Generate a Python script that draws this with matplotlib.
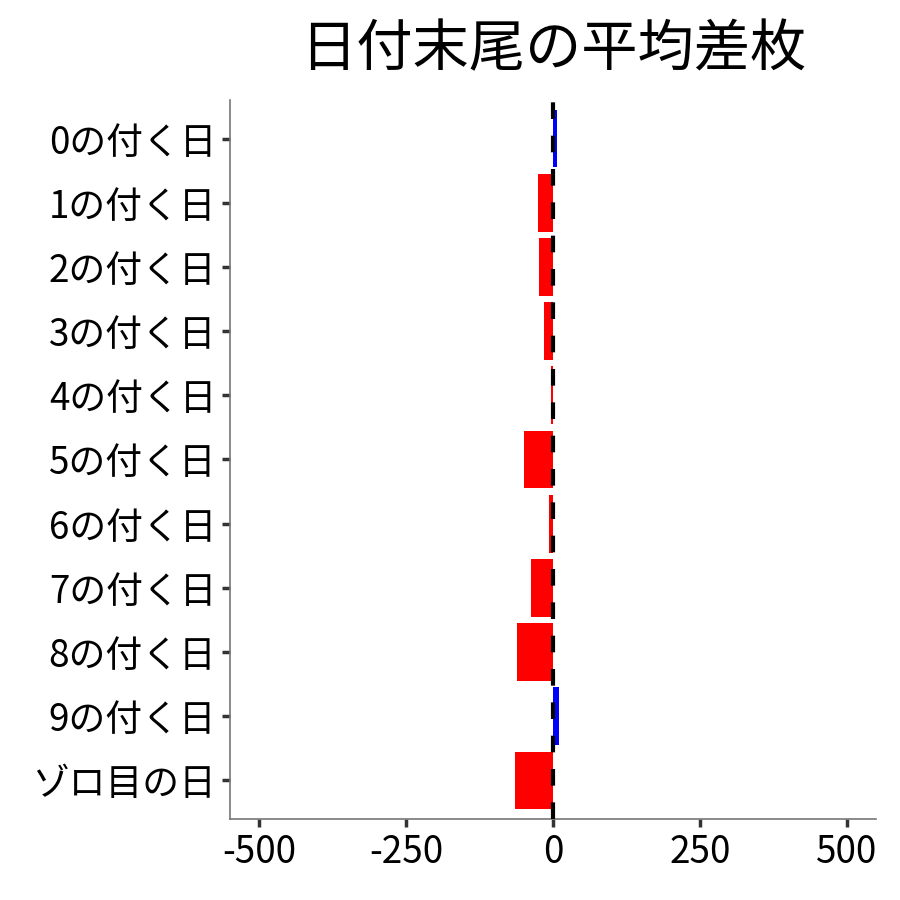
import matplotlib.pyplot as plt

plt.rcParams['font.family'] = ['Noto Sans CJK JP', 'DejaVu Sans']

categories = ['0の付く日', '1の付く日', '2の付く日', '3の付く日', '4の付く日',
              '5の付く日', '6の付く日', '7の付く日', '8の付く日', '9の付く日',
              'ゾロ目の日']
avg_diff = [7, -25, -23, -15, -4, -50, -6, -38, -61, 11, -64]
x_ticks = [-500, -250, 0, 250, 500]

colors = ['#0000FF' if v > 0 else '#FF0000' for v in avg_diff]

fig = plt.figure(figsize=(9, 9), dpi=100)
ax = fig.add_axes([0.2556, 0.09, 0.7177, 0.7989])

pos = list(range(len(categories)))
ax.barh(pos, avg_diff, height=0.9, color=colors, zorder=2)
ax.axvline(0, color='black', lw=3, dashes=(4, 4), zorder=3)

ax.set_xlim(-550, 550)
ax.set_ylim(len(categories) - 0.4, -0.6)
ax.set_yticks(pos)
ax.set_yticklabels(categories)
ax.set_xticks(x_ticks)
ax.set_xticklabels([str(t) for t in x_ticks])

for side in ['top', 'right']:
    ax.spines[side].set_visible(False)
for side in ['left', 'bottom']:
    ax.spines[side].set_color('#777777')
    ax.spines[side].set_linewidth(1.2)

ax.tick_params(axis='both', length=6, width=2.5, color='#333333',
               labelsize=26.5, labelcolor='black', pad=4)

ax.set_title('日付末尾の平均差枚', fontsize=40.5, pad=24)

fig.savefig('out.png', dpi=100)
